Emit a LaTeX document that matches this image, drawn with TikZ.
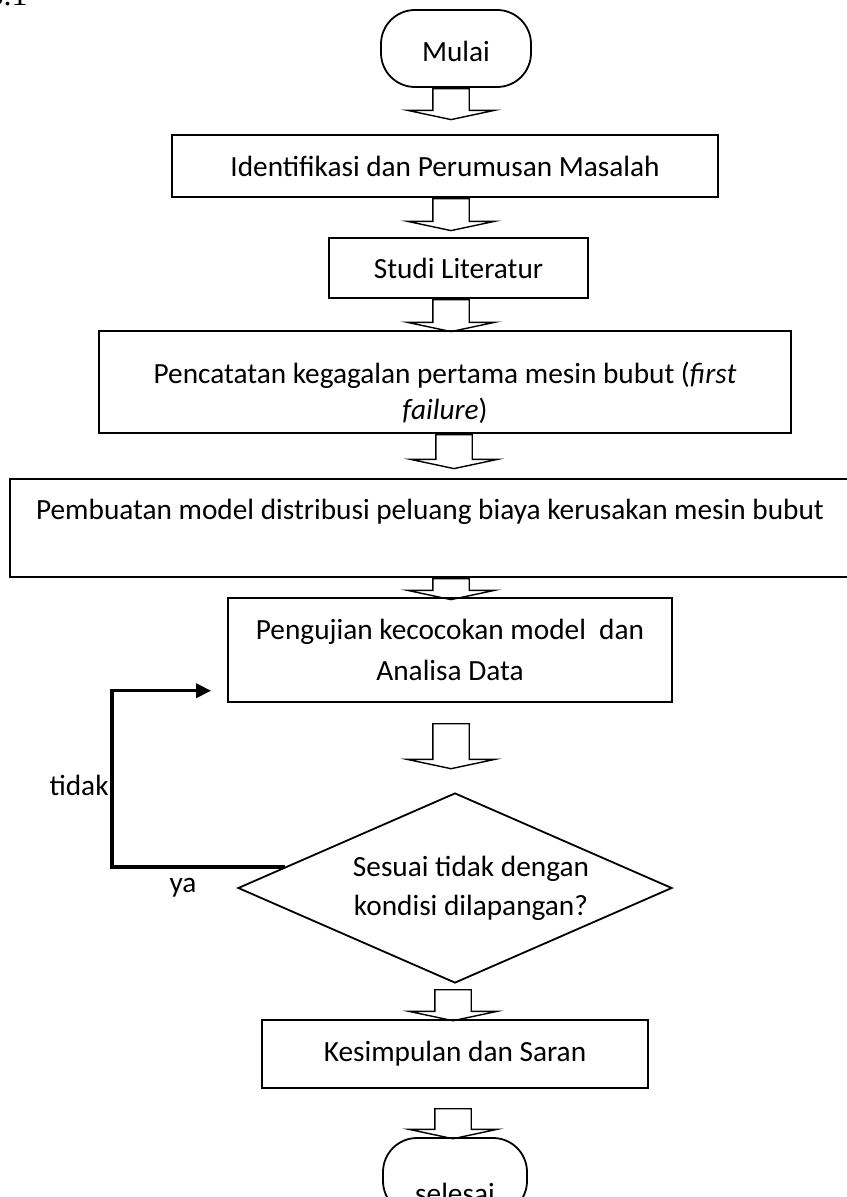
\documentclass[tikz,border=0pt]{standalone}
\usepackage{fontspec}
\setmainfont{Carlito}
\newfontfamily\capfont{Liberation Serif}
\usetikzlibrary{shapes.geometric,shapes.arrows,arrows.meta,calc}
\tikzset{
    flow-box/.style = {draw, line width=0.9pt, rectangle, inner sep=0pt, align=center},
    flow-end/.style = {draw, line width=0.9pt, rectangle, rounded corners=17pt, inner sep=0pt, minimum width=75pt, text height=26pt, text depth=12.5pt},
    flow-ask/.style = {draw, line width=0.9pt, diamond, aspect=2.28, inner sep=0pt, align=center},
    block-arrow/.style = {draw, line width=0.7pt, single arrow, rotate=-90, inner xsep=0pt, inner ysep=8.75pt, anchor=tail,
        single arrow head extend=12.75pt, single arrow tip angle=156, minimum height=#1*0.5pt},
    back-line/.style = {line width=1.75pt, -{Triangle[length=7.5pt,width=7pt]}},
}

\begin{document}
\begin{tikzpicture}[x=0.5pt, y=-0.5pt, font=\fontsize{14.65pt}{20pt}\selectfont]
\useasboundingbox (0,0) rectangle (846,1197);

\node[anchor=base east, inner sep=0pt, font=\capfont\fontsize{16pt}{16pt}\selectfont] (nomor) at (28,6) {3.1};

% langkah-langkah
\node[flow-end] (mulai) at (456,48.5) {Mulai};
\node[flow-box, minimum width=273pt, minimum height=31pt] (identifikasi) at (445,166) {Identifikasi dan Perumusan Masalah};
\node[flow-box, minimum width=129.5pt, minimum height=30pt] (studi) at (458.5,268) {Studi Literatur};
\node[flow-box, minimum width=346pt, minimum height=51pt, font=\fontsize{14.65pt}{18pt}\selectfont] (pencatatan) at (445,382)
    {\rule{0pt}{22pt}Pencatatan kegagalan pertama mesin bubut (\textit{first}\\ \textit{failure})};
\node[flow-box, minimum width=420pt, text height=20pt, text depth=29pt] (model) at (430,528)
    {Pembuatan model distribusi peluang biaya kerusakan mesin bubut};
\node[flow-box, minimum width=222pt, minimum height=52pt, font=\fontsize{14.65pt}{20.5pt}\selectfont] (pengujian) at (450,650)
    {Pengujian kecocokan model~ dan\\ Analisa Data};
\node[flow-ask, minimum width=217pt, minimum height=95pt, font=\fontsize{14.65pt}{19.5pt}\selectfont] (sesuai) at (455,888)
    {\hspace*{16pt}Sesuai tidak dengan\\ \hspace*{16pt}kondisi dilapangan?};
\node[flow-box, minimum width=193pt, minimum height=34pt] (kesimpulan) at (455,1054) {Kesimpulan dan Saran};
\node[flow-end, minimum width=72pt, text height=32.5pt, text depth=6pt] (selesai) at (455,1176.5) {selesai};

% panah blok
\node[block-arrow=31] (p1) at (451,0 |- mulai.south) {};
\node[block-arrow=32] (p2) at (451,0 |- identifikasi.south) {};
\node[block-arrow=32] (p3) at (451,0 |- studi.south) {};
\node[block-arrow=34] (p4) at (454,0 |- pencatatan.south) {};
\node[block-arrow=21] (p5) at (451,0 |- model.south) {};
\node[block-arrow=45] (p6) at (451,723) {};
\node[block-arrow=31] (p7) at (453,989) {};
\node[block-arrow=30] (p8) at (453,1108) {};

% kembali ke pengujian
\coordinate (kiri) at ($(sesuai.west)!0.22!(sesuai.north)$);
\coordinate (masuk) at ($(pengujian.south west)!0.115!(pengujian.north west)$);
\draw[back-line] (kiri) -- (112,0 |- kiri) -- (112,0 |- masuk) -- ([xshift=-8pt]masuk);
\node[anchor=east, inner sep=0pt] (tidak) at (109,785) {tidak};
\node[inner sep=0pt] (ya) at (183,888) {ya};
\end{tikzpicture}
\end{document}
